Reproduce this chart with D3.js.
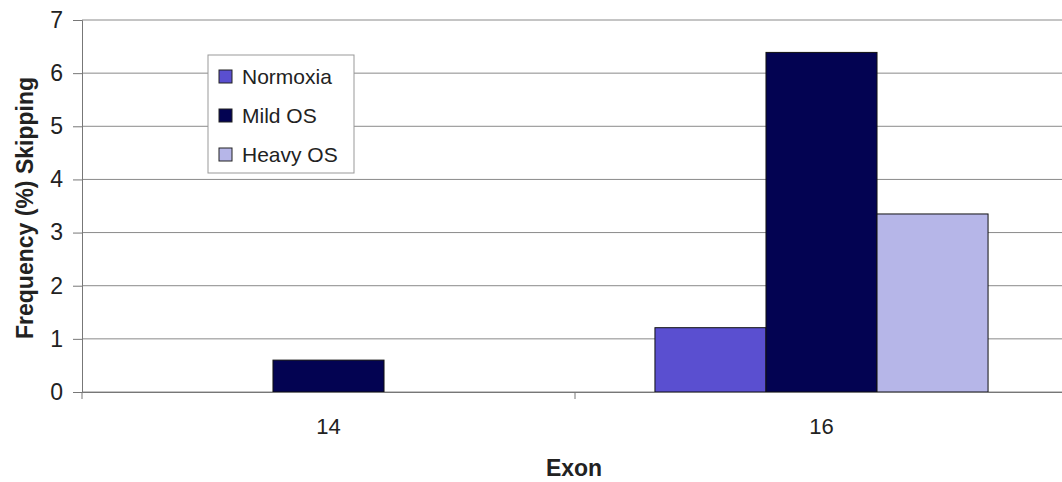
<!DOCTYPE html>
<html>
<head>
<meta charset="utf-8">
<script src="https://cdn.jsdelivr.net/npm/d3@7"></script>
<style>
  body { margin: 0; background: #fff; }
  svg { font-family: "Liberation Sans", Arial, sans-serif; }
</style>
</head>
<body>
<svg id="chart" width="1062" height="482"></svg>
<script>
// data
var exons = ["14", "16"]
var seriesNames = ["Normoxia", "Mild OS", "Heavy OS"]
var normoxia = [0, 1.21]
var mildOS = [0.6, 6.39]
var heavyOS = [0, 3.35]
var yTicks = [0, 1, 2, 3, 4, 5, 6, 7]
var colors = ["#5a4fd0", "#030352", "#b6b6e8"]

var seriesValues = [normoxia, mildOS, heavyOS]
var rows = []
exons.forEach(function(e, i) {
  seriesNames.forEach(function(s, j) {
    rows.push({ exon: e, series: s, value: seriesValues[j][i], color: colors[j] })
  })
})

var plotLeft = 82, plotRight = 1068, plotTop = 20, plotBottom = 392
var svg = d3.select("#chart")

var x = d3.scaleBand().domain(exons).range([plotLeft, plotRight]).padding(0)
var xs = d3.scaleBand().domain(seriesNames).range([0, x.bandwidth()])
  .paddingInner(0).paddingOuter(0.72)
var y = d3.scaleLinear().domain([0, 7]).range([plotBottom, plotTop])

// gridlines
svg.append("g")
  .selectAll("line")
  .data(yTicks)
  .enter()
  .append("line")
  .attr("x1", plotLeft)
  .attr("x2", plotRight)
  .attr("y1", function(d) { return y(d) })
  .attr("y2", function(d) { return y(d) })
  .attr("stroke", "#8a8a8a")
  .attr("stroke-width", 1)

// y axis
var yAxis = svg.append("g")
  .attr("transform", "translate(" + plotLeft + ",0)")
  .call(d3.axisLeft(y).tickValues(yTicks).tickFormat(d3.format("d")).tickSize(9).tickPadding(10))
yAxis.select(".domain").attr("stroke", "#777")
yAxis.selectAll(".tick line").attr("stroke", "#777")
yAxis.selectAll("text").attr("font-size", 23).attr("fill", "#222")
  .attr("font-family", "Liberation Sans, Arial, sans-serif")

// bars
svg.append("g")
  .selectAll("rect")
  .data(rows.filter(function(d) { return d.value > 0 }))
  .enter()
  .append("rect")
  .attr("x", function(d) { return x(d.exon) + xs(d.series) })
  .attr("y", function(d) { return y(d.value) })
  .attr("width", xs.bandwidth())
  .attr("height", function(d) { return plotBottom - y(d.value) })
  .attr("fill", function(d) { return d.color })
  .attr("stroke", "#111")
  .attr("stroke-width", 1)

// x axis
var xAxis = svg.append("g")
  .attr("transform", "translate(0," + plotBottom + ")")
  .call(d3.axisBottom(x).tickSize(0).tickPadding(26))
xAxis.select(".domain").attr("stroke", "#777")
xAxis.selectAll("text").attr("font-size", 22).attr("fill", "#222")
  .attr("font-family", "Liberation Sans, Arial, sans-serif")
// boundary ticks between categories
xAxis.selectAll(".bound")
  .data(exons)
  .enter()
  .append("line")
  .attr("class", "bound")
  .attr("x1", function(d) { return x(d) })
  .attr("x2", function(d) { return x(d) })
  .attr("y1", 0)
  .attr("y2", 7)
  .attr("stroke", "#777")

// axis titles
svg.append("text")
  .attr("text-anchor", "middle")
  .attr("transform", "translate(33,208) rotate(-90)")
  .attr("font-size", 23)
  .attr("font-weight", "bold")
  .attr("fill", "#222")
  .text("Frequency (%) Skipping")
svg.append("text")
  .attr("text-anchor", "middle")
  .attr("x", 574)
  .attr("y", 476)
  .attr("font-size", 23)
  .attr("font-weight", "bold")
  .attr("fill", "#222")
  .text("Exon")

// legend
var legend = svg.append("g").attr("transform", "translate(208,55)")
legend.append("rect")
  .attr("width", 146)
  .attr("height", 118)
  .attr("fill", "#fff")
  .attr("stroke", "#999")
var items = legend.selectAll(".item")
  .data(seriesNames)
  .enter()
  .append("g")
  .attr("class", "item")
  .attr("transform", function(d, i) { return "translate(11," + (22 + i * 39) + ")" })
items.append("rect")
  .attr("x", 0)
  .attr("y", -7)
  .attr("width", 13)
  .attr("height", 13)
  .attr("fill", function(d, i) { return colors[i] })
  .attr("stroke", "#222")
items.append("text")
  .attr("x", 23)
  .attr("y", 7)
  .attr("font-size", 21)
  .attr("fill", "#222")
  .text(function(d) { return d })
</script>
</body>
</html>
